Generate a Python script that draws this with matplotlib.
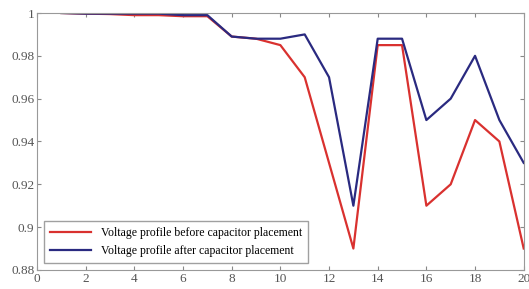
import numpy as np
import matplotlib.pyplot as plt
plt.rc('font', family='Liberation Serif')

bus = np.arange(1, 21)
v_before = [1.0, 0.9997, 0.9995, 0.999, 0.999, 0.9985, 0.9985, 0.989, 0.988, 0.985,
            0.97, 0.93, 0.89, 0.985, 0.985, 0.91, 0.92, 0.95, 0.94, 0.89]
v_after = [1.0, 0.9997, 0.9997, 0.9997, 0.9997, 0.999, 0.999, 0.989, 0.988, 0.988,
           0.99, 0.97, 0.91, 0.988, 0.988, 0.95, 0.96, 0.98, 0.95, 0.93]

fig = plt.figure(figsize=(5.29, 2.89), dpi=100)
ax = fig.add_axes([0.07, 0.066, 0.92, 0.889])
ax.plot(bus, v_before, color='#d9312f', lw=1.6, label='Voltage profile before capacitor placement')
ax.plot(bus, v_after, color='#2a2a80', lw=1.6, label='Voltage profile after capacitor placement')
ax.set_xlim(0, 20)
ax.set_ylim(0.88, 1.0)
ax.set_xticks(np.arange(0, 21, 2))
ax.set_yticks([0.88, 0.9, 0.92, 0.94, 0.96, 0.98, 1.0])
ax.set_yticklabels(['0.88', '0.9', '0.92', '0.94', '0.96', '0.98', '1'])
ax.tick_params(direction='in', top=True, right=True, length=3, color='#888888',
               labelsize=9.5, labelcolor='#555555', pad=2)
for s in ax.spines.values():
    s.set_color('#999999')
leg = ax.legend(loc='lower left', fontsize=8.5, fancybox=False, edgecolor='#888888',
                borderaxespad=0.6, handlelength=3.5, borderpad=0.5)
plt.savefig('out.png', dpi=100)
